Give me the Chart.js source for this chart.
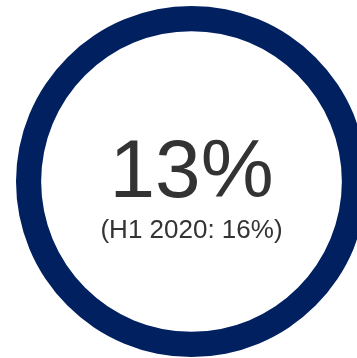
<!DOCTYPE html>
<html>
<head>
<meta charset="utf-8">
<script src="https://cdn.jsdelivr.net/npm/chart.js@4"></script>
<style>
  html, body { margin: 0; padding: 0; background: #fff; overflow: hidden; }
  #wrap { position: absolute; left: 0; top: 0; width: 357px; height: 358px; overflow: hidden; }
  #ring { position: absolute; left: 0; top: 0; }
</style>
</head>
<body>
<div id="wrap"><canvas id="ring" width="383" height="363"></canvas></div>
<script>
// значення кільця та підписи в центрі
const segmentLabels = ['H1 2021'];
const segmentValues = [100];
const centerTexts = ['13%', '(H1 2020: 16%)'];

const centerText = {
    id: 'centerText',
    afterDraw(chart) {
        const ctx = chart.ctx;
        const cx = (chart.chartArea.left + chart.chartArea.right) / 2;
        ctx.save();
        ctx.fillStyle = '#333333';
        ctx.textAlign = 'center';
        ctx.textBaseline = 'alphabetic';
        ctx.font = '82px "Liberation Sans", Arial, sans-serif';
        ctx.fillText(centerTexts[0], cx, 197);
        ctx.font = '26px "Liberation Sans", Arial, sans-serif';
        ctx.fillText(centerTexts[1], cx, 238);
        ctx.restore();
    }
};

new Chart(document.getElementById('ring'), {
    type: 'doughnut',
    data: {
        labels: segmentLabels,
        datasets: [{
            data: segmentValues,
            backgroundColor: '#002060',
            borderWidth: 0,
            radius: 175.5,
            cutout: 155.5
        }]
    },
    options: {
        responsive: false,
        animation: false,
        layout: { padding: 0 },
        plugins: {
            legend: { display: false },
            tooltip: { enabled: false }
        }
    },
    plugins: [centerText]
});
</script>
</body>
</html>
